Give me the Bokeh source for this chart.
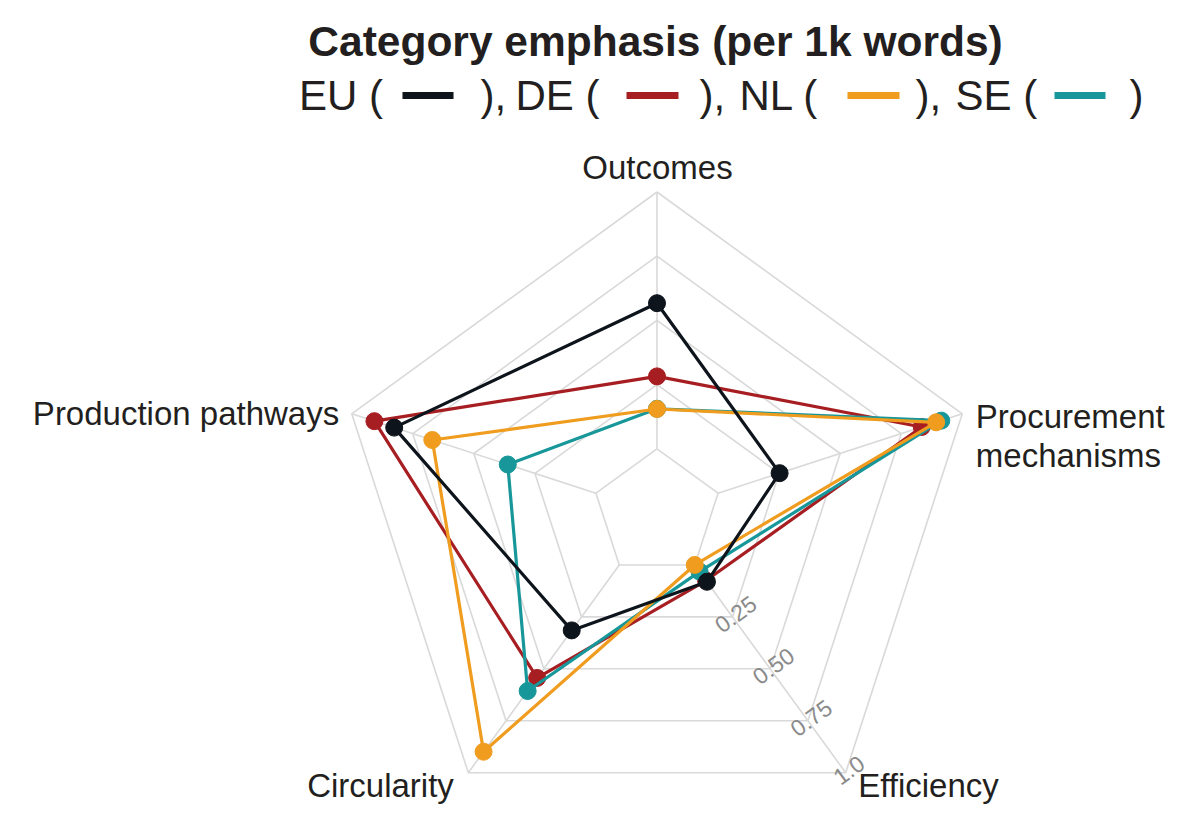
import numpy as np
from bokeh.plotting import figure
from bokeh.models import Range1d
from bokeh.core.properties import value
from bokeh.embed import file_html
from bokeh.resources import INLINE

# ---------------- data ----------------
categories = ["Outcomes", "Procurement mechanisms", "Efficiency", "Circularity", "Production pathways"]
series_names = ["EU", "DE", "NL", "SE"]
eu_values = [0.567, 0.252, 0.081, 0.315, 0.826]
de_values = [0.282, 0.834, 0.075, 0.544, 0.907]
nl_values = [0.155, 0.893, 0.000, 0.899, 0.670]
se_values = [0.156, 0.914, 0.032, 0.607, 0.361]
radial_ticks = [0.25, 0.50, 0.75, 1.0]
radial_tick_labels = ["0.25", "0.50", "0.75", "1.0"]
title_text = "Category emphasis (per 1k words)"

series_values = {"EU": eu_values, "DE": de_values, "NL": nl_values, "SE": se_values}
colors = {"EU": "#0e141b", "DE": "#a71e22", "NL": "#ef9c1f", "SE": "#17979a"}
draw_order = ["DE", "SE", "NL", "EU"]

# ---------------- layout ----------------
W, H = 1184, 810
R = 321.0              # px per radial unit
CX, CY = 656.5, 512.5  # canvas px of the polar centre
HOLE = 0.2
FONT = "Liberation Sans"
TXT = "#231f20"
GRID = "#d9d9d9"
TICK = "#8a8a8a"

def px(x, y):
    """canvas pixel -> data coordinates"""
    return ((x - CX) / R, (CY - y) / R)

def rad(v):
    return HOLE + (1 - HOLE) * np.asarray(v, dtype=float)

n = len(categories)
theta = np.radians(90 - 72 * np.arange(n))
ct, st = np.cos(theta), np.sin(theta)

p = figure(width=W, height=H,
           x_range=Range1d(-CX / R, (W - CX) / R),
           y_range=Range1d(-(H - CY) / R, CY / R),
           x_axis_type=None, y_axis_type=None,
           toolbar_location=None, output_backend="svg",
           min_border=0, outline_line_color=None)
p.background_fill_color = "white"
p.border_fill_color = "white"

# grid rings
for v in [0.0] + radial_ticks:
    r = float(rad(v))
    xs = list(r * ct) + [r * ct[0]]
    ys = list(r * st) + [r * st[0]]
    p.line(xs, ys, line_color=GRID, line_width=1.6)

# spokes
p.segment(x0=list(rad(0) * ct), y0=list(rad(0) * st), x1=list(ct), y1=list(st),
          line_color=GRID, line_width=1.6)

# radial tick labels along the Efficiency spoke
ei = categories.index("Efficiency")
tx = [float(rad(v) * ct[ei]) + 3 / R for v in radial_ticks]
ty = [float(rad(v) * st[ei]) + 3 / R for v in radial_ticks]
p.text(x=tx, y=ty, text=radial_tick_labels, angle=np.radians(36),
       text_align="center", text_baseline="middle",
       text_font=value(FONT), text_font_size="23px", text_color=TICK)

# series
for name in draw_order:
    r = rad(series_values[name])
    xs = list(r * ct) + [r[0] * ct[0]]
    ys = list(r * st) + [r[0] * st[0]]
    p.line(xs, ys, line_color=colors[name], line_width=3.2, line_join="round")
    p.scatter(xs[:-1], ys[:-1], size=17, fill_color=colors[name], line_color=colors[name])

# category labels: (dx, dy) px offsets of the text middle from each outer vertex (dy down)
label_lines = [["Outcomes"], ["Procurement", "mechanisms"], ["Efficiency"], ["Circularity"], ["Production pathways"]]
label_off = [(0.5, -24.5), (13.5, 2.5), (12.5, 13.0), (-14.5, 13.2), (-12.5, 0.0)]
label_align = ["center", "left", "left", "right", "right"]
LINE_GAP = 39.4
for i in range(n):
    for j, line in enumerate(label_lines[i]):
        lx = ct[i] + label_off[i][0] / R
        ly = st[i] - (label_off[i][1] + j * LINE_GAP) / R
        p.text(x=[lx], y=[ly], text=[line],
               text_align=label_align[i], text_baseline="middle",
               text_font=value(FONT), text_font_size="33px", text_color=TXT)

# title
tx0, ty0 = px(655, 41)
p.text(x=[tx0], y=[ty0], text=[title_text], text_align="center", text_baseline="middle",
       text_font=value(FONT), text_font_size="42.5px", text_font_style="bold", text_color=TXT)

# legend row: NAME ( ---- ), ...
leg_text_x = [298.5, 515, 739, 955]
leg_dash_x = [(402, 453), (626, 678), (847, 899), (1054, 1105)]
leg_close_x = [480, 699, 915, 1129]
leg_mid_y = 95
for k, name in enumerate(series_names):
    x0, y0 = px(leg_text_x[k], leg_mid_y)
    p.text(x=[x0], y=[y0], text=[f"{name} ("], text_align="left", text_baseline="middle",
           text_font=value(FONT), text_font_size="42px", text_color=TXT)
    a, yd = px(leg_dash_x[k][0], leg_mid_y)
    b, _ = px(leg_dash_x[k][1], leg_mid_y)
    p.segment(x0=[a], y0=[yd], x1=[b], y1=[yd], line_color=colors[name], line_width=7)
    xc, yc = px(leg_close_x[k], leg_mid_y)
    close = ")," if k < len(series_names) - 1 else ")"
    p.text(x=[xc], y=[yc], text=[close], text_align="left", text_baseline="middle",
           text_font=value(FONT), text_font_size="42px", text_color=TXT)

open("out.html", "w").write(file_html(p, INLINE))
